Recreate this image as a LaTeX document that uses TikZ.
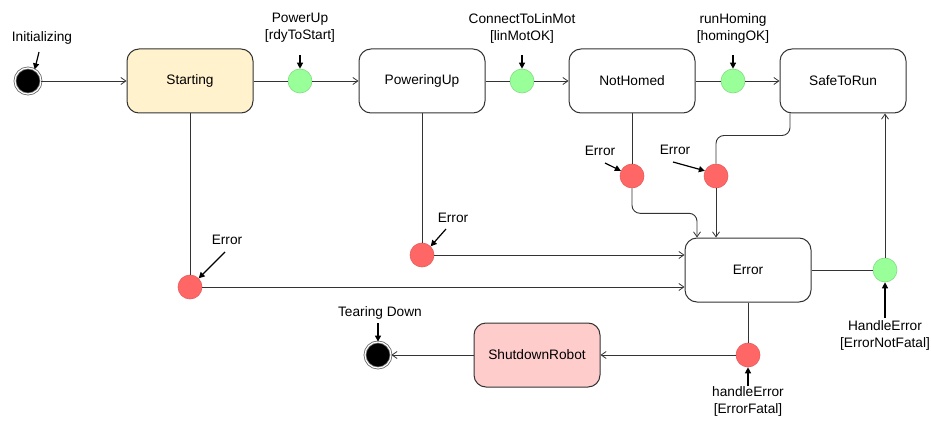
\documentclass[tikz,border=0pt]{standalone}
\usepackage{fontspec}
\setmainfont{Liberation Sans}
\usetikzlibrary{arrows.meta,positioning,calc}
\definecolor{startfill}{HTML}{FFF2CC}
\definecolor{shutfill}{HTML}{FFCCCC}
\definecolor{okfill}{HTML}{99FF99}
\definecolor{okdraw}{HTML}{80DD80}
\definecolor{errfill}{HTML}{FF6666}
\definecolor{errdraw}{HTML}{E85C5C}
\definecolor{edge}{HTML}{333333}
\begin{document}
\begin{tikzpicture}[x=1pt,y=-1pt,
  font=\fontsize{13.7}{17}\selectfont,
  state/.style={draw=edge,line width=1pt,rounded corners=12pt,minimum width=126pt,minimum height=64pt,fill=white,inner sep=0pt},
  okpt/.style={circle,fill=okfill,draw=okdraw,line width=0.6pt,minimum size=24pt,inner sep=0pt},
  errpt/.style={circle,fill=errfill,draw=errdraw,line width=0.6pt,minimum size=24pt,inner sep=0pt},
  endpt/.style={circle,fill=black,draw=black!60,line width=0.8pt,double=white,double distance=1.2pt,minimum size=26pt,inner sep=0pt},
  lbl/.style={align=center,inner sep=1pt},
  conn/.style={draw=edge,line width=0.9pt},
  arr/.style={conn,-{Straight Barb[length=5pt,width=7pt,line width=0.8pt]}},
  lab/.style={draw=black,line width=1.2pt,-{Triangle[length=6pt,width=6pt]}}]
\useasboundingbox (0,0) rectangle (931,425);

% states
\node[endpt] (init) at (28,81) {};
\node[state,fill=startfill] (starting) at (190,81) {Starting};
\node[state] (powering) at (422,81) {PoweringUp};
\node[state] (nothomed) at (632,81) {NotHomed};
\node[state] (safe) at (843,81) {SafeToRun};
\node[state] (error) at (748,270) {Error};
\node[state,fill=shutfill] (shutdown) at (537,355) {ShutdownRobot};
\node[endpt] (final) at (378,355) {};

% transition points
\node[okpt] (g1) at (300,81) {};
\node[okpt] (g2) at (522,81) {};
\node[okpt] (g3) at (733,81) {};
\node[okpt] (g4) at (885,270) {};
\node[errpt] (r1) at (632,176) {};
\node[errpt] (r2) at (716,176) {};
\node[errpt] (r3) at (422,255) {};
\node[errpt] (r4) at (190,287) {};
\node[errpt] (r5) at (748,355) {};

% labels
\node[lbl] (lInit) at (42,38) {Initializing};
\node[lbl] (lg1) at (300,28) {PowerUp\\{}[rdyToStart]};
\node[lbl] (lg2) at (522,28) {ConnectToLinMot\\{}[linMotOK]};
\node[lbl] (lg3) at (733,28) {runHoming\\{}[homingOK]};
\node[lbl] (lr1) at (600,151) {Error};
\node[lbl] (lr2) at (675,150) {Error};
\node[lbl] (lr3) at (453,218) {Error};
\node[lbl] (lr4) at (227,240) {Error};
\node[lbl] (lFin) at (380,313) {Tearing Down};
\node[lbl] (lg4) at (885,335) {HandleError\\{}[ErrorNotFatal]};
\node[lbl] (lr5) at (748,401) {handleError\\{}[ErrorFatal]};

% label pointers
\coordinate (pInit) at (39,52);
\coordinate (pg1) at (300,55);
\coordinate (pg2) at (522,55);
\coordinate (pg3) at (733,55);
\coordinate (pr1) at (605,163);
\coordinate (pr2) at (673,162);
\coordinate (pr3) at (446,229);
\coordinate (pr4) at (225,252);
\coordinate (pFin) at (378,323);
\coordinate (pg4) at (885,318);
\coordinate (pr5) at (748,386);
\draw[lab] (pInit) -- (init.60);
\draw[lab] (pg1) -- (g1.north);
\draw[lab] (pg2) -- (g2.north);
\draw[lab] (pg3) -- (g3.north);
\draw[lab] (pr1) -- (r1.155);
\draw[lab] (pr2) -- (r2.155);
\draw[lab] (pr3) -- (r3.north east);
\draw[lab] (pr4) -- (r4.north east);
\draw[lab] (pFin) -- (final.north);
\draw[lab] (pg4) -- (g4.south);
\draw[lab] (pr5) -- (r5.south);

% main line
\draw[arr] (init) -- (starting);
\draw[conn] (starting) -- (g1);
\draw[arr] (g1) -- (powering);
\draw[conn] (powering) -- (g2);
\draw[arr] (g2) -- (nothomed);
\draw[conn] (nothomed) -- (g3);
\draw[arr] (g3) -- (safe);

% error transitions
\draw[conn] (nothomed) -- (r1);
\draw[arr,rounded corners=8pt] (r1.south) -- ++(0,25) -| ([xshift=-51pt]error.north);
\draw[conn,rounded corners=8pt] ([xshift=-53pt]safe.south) -- ++(0,22) -| (r2.north);
\draw[arr] (r2) -- (r2 |- error.north);
\draw[conn] (powering) -- (r3);
\draw[arr] (r3) -- (r3 -| error.west);
\draw[conn] (starting) -- (r4);
\draw[arr] (r4) -- (r4 -| error.west);

% recovery and shutdown
\draw[conn] (error) -- (g4);
\draw[arr] (g4) -- (g4 |- safe.south);
\draw[conn] (error) -- (r5);
\draw[arr] (r5) -- (shutdown);
\draw[arr] (shutdown) -- (final);
\end{tikzpicture}
\end{document}
